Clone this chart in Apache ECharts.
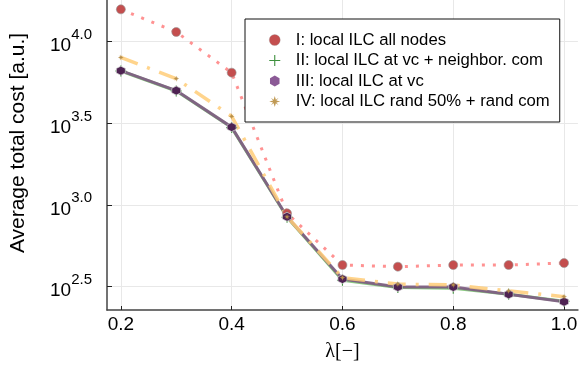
<!DOCTYPE html>
<html>
<head>
<meta charset="utf-8">
<script src="https://cdn.jsdelivr.net/npm/echarts@6/dist/echarts.min.js"></script>
<style>
html,body{margin:0;padding:0;background:#fff;}
#chart{width:580px;height:369px;}
</style>
</head>
<body>
<div id="chart"></div>
<script>
// ---- data ----
const lambdas = [0.2, 0.3, 0.4, 0.5, 0.6, 0.7, 0.8, 0.9, 1.0];
const seriesNames = [
  'I: local ILC all nodes',
  'II: local ILC at vc + neighbor. com',
  'III: local ILC at vc',
  'IV: local ILC rand 50% + rand com'
];
const costAllNodes    = [15600, 11350, 6410, 887, 429, 419, 429, 429, 441];
const costVcNeighbor  = [6560, 4950, 2960, 840, 346, 313, 309, 284, 258];
const costVc          = [6590, 4980, 2980, 845, 352, 315, 315, 284, 256];
const costRand        = [7940, 5890, 3470, 845, 359, 328, 324, 298, 275];
const xTicks = [0.2, 0.4, 0.6, 0.8, 1.0];
const yTicks = [316.2278, 1000, 3162.278, 10000]; // 10^2.5 .. 10^4.0

const pairs = ys => lambdas.map((x, i) => [x, ys[i]]);

const plusPath = 'path://M5.4,0H6.6V5.4H12V6.6H6.6V12H5.4V6.6H0V5.4H5.4Z';
const hexPath = 'path://M5,0L9.33,2.5L9.33,7.5L5,10L0.67,7.5L0.67,2.5Z';
const starPath = 'path://M5,0L6,3.5L8.5,1.5L6.5,4L10,5L6.5,6L8.5,8.5L6,6.5L5,10L4,6.5L1.5,8.5L3.5,6L0,5L3.5,4L1.5,1.5L4,3.5Z';

const chart = echarts.init(document.getElementById('chart'), null, {renderer: 'canvas'});
const font = 'Liberation Sans';

chart.setOption({
  animation: false,
  backgroundColor: '#fff',
  grid: {left: 98, top: 0, right: 0, bottom: 59, containLabel: false},
  legend: {
    orient: 'vertical',
    left: 245, top: 19,
    padding: [12.5, 10, 12, 24],
    itemWidth: 32, itemHeight: 11, itemGap: 3.5,
    backgroundColor: '#fff',
    borderColor: '#111', borderWidth: 1, borderRadius: 0,
    textStyle: {fontFamily: font, fontSize: 16.7, color: '#000'},
    data: [
      {name: seriesNames[0], icon: 'circle', itemStyle: {color: '#c44e4e', borderColor: 'rgba(150,150,150,0.6)', borderWidth: 0.5}},
      {name: seriesNames[1], icon: plusPath, itemStyle: {color: '#3d8f3d', borderWidth: 0}},
      {name: seriesNames[2], icon: hexPath, itemStyle: {color: '#8b5a96', borderWidth: 0}},
      {name: seriesNames[3], icon: starPath, itemStyle: {color: '#c09a55', borderWidth: 0}}
    ]
  },
  xAxis: {
    type: 'value', min: 0.175, max: 1.025,
    name: 'λ[−]', nameLocation: 'middle', nameGap: 32,
    nameTextStyle: {fontFamily: 'Liberation Serif', fontSize: 20, color: '#000'},
    axisLine: {show: true, onZero: false, lineStyle: {color: '#444', width: 1.5}},
    axisTick: {show: true, inside: true, length: 4, customValues: xTicks, lineStyle: {color: '#222', width: 1}},
    axisLabel: {customValues: xTicks, fontFamily: font, fontSize: 19, color: '#000', margin: 5,
      formatter: v => v.toFixed(1)},
    splitLine: {show: true, lineStyle: {color: '#e8e8e8', width: 1}}
  },
  yAxis: {
    type: 'log', logBase: 10, min: 227.9, max: 17796,
    name: 'Average total cost [a.u.]', nameLocation: 'middle', nameGap: 78,
    nameTextStyle: {fontFamily: font, fontSize: 21, color: '#000', padding: [0, 0, 0, 24]},
    axisLine: {show: true, onZero: false, lineStyle: {color: '#444', width: 1.5}},
    axisTick: {show: true, inside: true, length: 5, customValues: yTicks, lineStyle: {color: '#222', width: 1}},
    axisLabel: {
      customValues: yTicks, margin: 15,
      formatter: v => '{a|10}{b|' + Math.log10(v).toFixed(1) + '}',
      rich: {
        a: {fontFamily: font, fontSize: 19, color: '#000', padding: [9, 0, 0, 0], verticalAlign: 'bottom'},
        b: {fontFamily: font, fontSize: 15, color: '#000', verticalAlign: 'top'}
      }
    },
    splitLine: {show: true, lineStyle: {color: '#e8e8e8', width: 1}}
  },
  series: [
    {
      name: seriesNames[0], type: 'line', data: pairs(costAllNodes),
      symbol: 'circle', symbolSize: 9,
      itemStyle: {color: '#c44e4e', borderColor: 'rgba(150,150,150,0.6)', borderWidth: 1},
      lineStyle: {color: 'rgba(255,110,110,0.75)', width: 3, type: [3, 8], cap: 'butt'}
    },
    {
      name: seriesNames[1], type: 'line', data: pairs(costVcNeighbor),
      symbol: plusPath, symbolSize: 11,
      itemStyle: {color: '#3d8f3d', borderWidth: 0},
      lineStyle: {color: 'rgba(125,195,115,0.9)', width: 3}
    },
    {
      name: seriesNames[2], type: 'line', data: pairs(costVc),
      symbol: hexPath, symbolSize: 9,
      itemStyle: {color: '#4e2352', borderColor: 'rgba(210,210,210,0.7)', borderWidth: 1},
      lineStyle: {color: 'rgba(125,90,130,0.9)', width: 3}
    },
    {
      name: seriesNames[3], type: 'line', data: pairs(costRand),
      symbol: starPath, symbolSize: 6,
      itemStyle: {color: '#b88f4a', borderWidth: 0},
      lineStyle: {color: 'rgba(255,205,120,0.85)', width: 3.5, type: [18, 10, 3, 10], cap: 'butt'}
    }
  ]
});
</script>
</body>
</html>
